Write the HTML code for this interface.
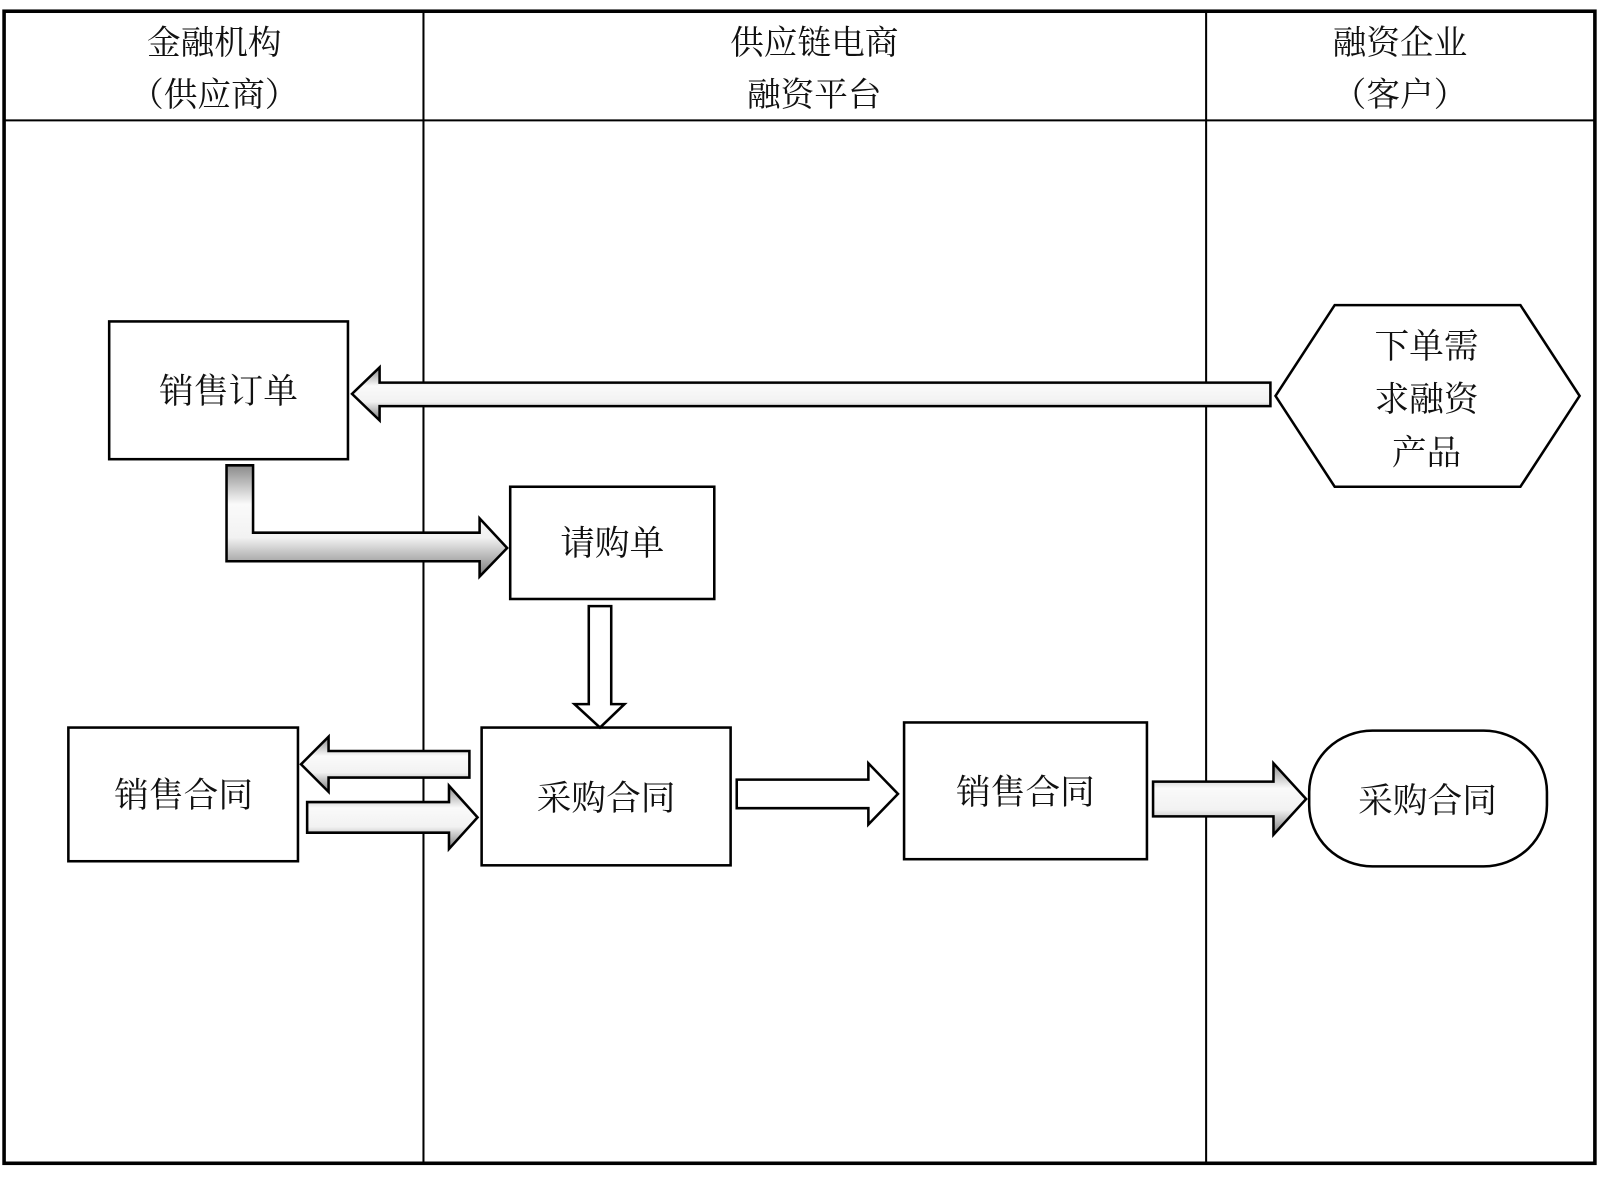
<!DOCTYPE html>
<html><head><meta charset="utf-8"><style>html,body{margin:0;padding:0;background:#fff}svg{display:block}text{font-family:"Liberation Serif","Noto Serif CJK SC","Noto Sans CJK SC",serif;fill:#111}</style></head>
<body>
<svg width="1600" height="1179" viewBox="0 0 1568 1155.4" preserveAspectRatio="none" xmlns="http://www.w3.org/2000/svg">
<defs>
<linearGradient id="gv" x1="0" y1="0" x2="0" y2="1"><stop offset="0" stop-color="#8a8a8a"/><stop offset="0.35" stop-color="#fafafa"/><stop offset="0.65" stop-color="#f2f2f2"/><stop offset="1" stop-color="#7a7a7a"/></linearGradient>
</defs>
<rect x="4" y="11" width="1559" height="1129" fill="#fff" stroke="#000" stroke-width="3.5"/>
<line x1="4" y1="118" x2="1563" y2="118" stroke="#000" stroke-width="2"/>
<line x1="415" y1="11" x2="415" y2="1140" stroke="#000" stroke-width="2"/>
<line x1="1182" y1="11" x2="1182" y2="1140" stroke="#000" stroke-width="2"/>
<g font-size="33" text-anchor="middle">
<text x="210" y="53">金融机构</text><text x="210" y="104">（供应商）</text>
<text x="798" y="53">供应链电商</text><text x="798" y="104">融资平台</text>
<text x="1372" y="53">融资企业</text><text x="1372" y="104">（客户）</text>
</g>
<g fill="#fff" stroke="#000" stroke-width="2.5">
<rect x="107" y="315" width="234" height="135"/>
<rect x="500" y="477" width="200" height="110"/>
<rect x="67" y="713" width="225" height="131"/>
<rect x="472" y="713" width="244" height="135"/>
<rect x="886" y="708" width="238" height="134"/>
<polygon points="1250,388 1308,299 1490,299 1548,388 1490,477 1308,477"/>
<rect x="1283" y="716" width="233" height="133" rx="62" ry="60"/>
</g>
<g stroke="#000" stroke-width="2.5">
<polygon fill="url(#gv)" points="1245,375 372,375 372,360 345,386 372,412 372,398 1245,398"/>
<polygon fill="url(#gv)" points="222,456 248,456 248,522 470,522 470,508 497,537 470,565 470,550 222,550"/>
<polygon fill="#fff" points="577,594 599,594 599,690 612,690 588,713 563,690 577,690"/>
<polygon fill="url(#gv)" points="460,736 322,736 322,722 295,749 322,776 322,762 460,762"/>
<polygon fill="url(#gv)" points="301,786 440,786 440,770 468,801 440,832 440,816 301,816"/>
<polygon fill="#fff" points="722,764 851,764 851,748 880,778 851,808 851,792 722,792"/>
<polygon fill="url(#gv)" points="1130,766 1248,766 1248,748 1280,783 1248,818 1248,800 1130,800"/>
</g>
<g font-size="34" text-anchor="middle">
<text x="224" y="395">销售订单</text>
<text x="600" y="544">请购单</text>
<text x="180" y="791">销售合同</text>
<text x="594" y="794">采购合同</text>
<text x="1005" y="788">销售合同</text>
<text x="1399" y="796">采购合同</text>
<text x="1398" y="351">下单需</text>
<text x="1398" y="403">求融资</text>
<text x="1398" y="455">产品</text>
</g>
</svg>
</body></html>
